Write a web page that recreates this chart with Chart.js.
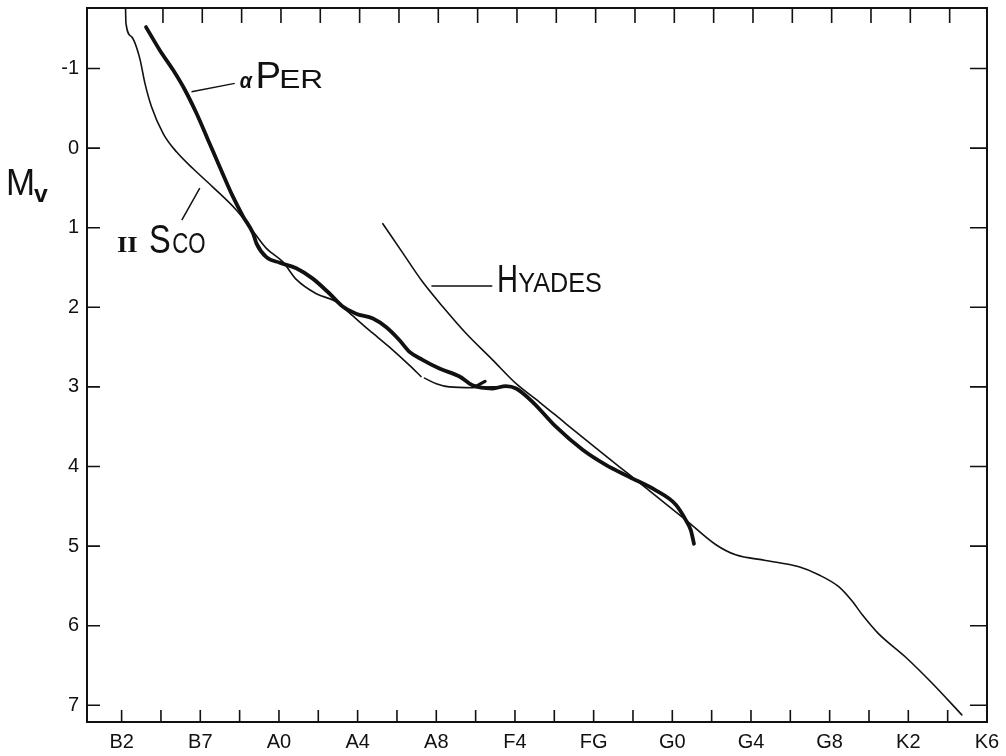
<!DOCTYPE html>
<html>
<head>
<meta charset="utf-8">
<script src="https://cdn.jsdelivr.net/npm/chart.js@4.4.1/dist/chart.umd.min.js"></script>
<style>
    html, body { margin: 0; padding: 0; background: #fff; }
    #wrap { width: 1006px; height: 756px; }
</style>
</head>
<body>
<div id="wrap"><canvas id="hrChart" width="1006" height="756"></canvas></div>
<script>
(function() {
    'use strict';

    // x axis: spectral type in tick steps from B2 (one label every 2 steps)
    const spectralLabels = ['B2', 'B7', 'A0', 'A4', 'A8', 'F4', 'FG', 'G0', 'G4', 'G8', 'K2', 'K6'];
    const magnitudeTicks = [-1, 0, 1, 2, 3, 4, 5, 6, 7];

    // II Sco (thin line), null = small break in the drawing
    const scoType = [0.10, 0.11, 0.25, 0.46, 0.59, 0.76, 1.06, 1.40, 1.82, 2.32, 2.92, 3.26, 3.68, 4.10, 4.44, 4.95, 5.46, 5.79, 6.30, 6.81, 7.32, 7.61, 7.65, 7.70, 8.00, 8.33, 8.92, 9.43, 9.94, 10.06];
    const scoMag  = [-1.75, -1.57, -1.40, -1.13, -0.82, -0.52, -0.18, 0.05, 0.26, 0.49, 0.78, 0.99, 1.26, 1.43, 1.65, 1.83, 1.93, 2.07, 2.29, 2.50, 2.73, 2.87, null, 2.89, 2.96, 3.00, 3.01, 3.00, 3.00, 3.03];

    // alpha Per (thick line)
    const perType = [0.62, 0.97, 1.31, 1.61, 1.90, 2.20, 2.49, 2.83, 3.09, 3.34, 3.43, 3.68, 4.02, 4.44, 4.86, 5.29, 5.62, 5.96, 6.39, 6.73, 7.06, 7.32, 7.65, 8.08, 8.59, 8.92, 9.43, 9.77, 10.03, 10.45, 11.04, 11.72, 12.31, 12.90, 13.58, 14.09, 14.34, 14.47, 14.55];
    const perMag  = [-1.52, -1.23, -0.98, -0.73, -0.44, -0.10, 0.23, 0.61, 0.86, 1.07, 1.20, 1.37, 1.44, 1.51, 1.64, 1.83, 1.99, 2.08, 2.14, 2.25, 2.41, 2.56, 2.66, 2.77, 2.87, 2.98, 3.02, 2.99, 3.02, 3.19, 3.50, 3.79, 3.98, 4.13, 4.30, 4.48, 4.67, 4.80, 4.97];

    // little stroke end on the alpha Per line
    const stubType = [9.02, 9.24];
    const stubMag  = [2.99, 2.93];

    // Hyades (thin line)
    const hyaType = [6.64, 7.15, 7.65, 8.16, 8.76, 9.43, 10.03, 10.62, 11.29, 12.14, 12.90, 13.66, 14.34, 15.10, 15.61, 16.37, 17.22, 17.72, 18.23, 18.57, 18.84, 19.24, 19.92, 20.60, 21.36];
    const hyaMag  = [0.95, 1.32, 1.68, 1.99, 2.33, 2.66, 2.96, 3.19, 3.46, 3.80, 4.10, 4.40, 4.67, 4.98, 5.11, 5.18, 5.26, 5.36, 5.51, 5.69, 5.87, 6.10, 6.39, 6.72, 7.12];

    const ink = '#111';
    const sans = "'Liberation Sans', Arial, sans-serif";
    const serif = "'Liberation Serif', 'DejaVu Serif', serif";

    function toPoints(xs, ys) {
        return xs.map((x, i) => ({ x: x, y: ys[i] }));
    }

    function lineSet(xs, ys, width) {
        return {
            data: toPoints(xs, ys),
            borderColor: ink,
            borderWidth: width,
            pointRadius: 0,
            fill: false,
            spanGaps: false,
            cubicInterpolationMode: 'monotone',
            borderCapStyle: 'round',
            borderJoinStyle: 'round'
        };
    }

    // labels: anchor in data units, parts offset in px from the anchor
    const notes = [
        { x: 3.003, y: -0.754, parts: [
            { text: '\u03b1', dx: 0, w: 13, h: 12, font: 'italic bold', family: sans },
            { text: 'P', dx: 18, w: 22, h: 25 },
            { text: 'ER', dx: 42, w: 40, h: 18 }
        ] },
        { x: -0.119, y: 1.319, parts: [
            { text: 'II', dx: 0, w: 20, h: 16, dy: -1, font: 'bold', family: serif },
            { text: 'S', dx: 33, w: 20, h: 28 },
            { text: 'CO', dx: 56, w: 32, h: 20 }
        ] },
        { x: 9.60, y: 1.809, parts: [
            { text: 'H', dx: 0, w: 17, h: 27 },
            { text: 'YADES', dx: 19, w: 83, h: 19 }
        ] },
        { x: -2.886, y: 0.590, parts: [
            { text: 'M', dx: 0, w: 25, h: 25 },
            { text: 'v', dx: 26, w: 15, h: 13, dy: 7, font: 'bold' }
        ] }
    ];

    const leaders = [
        [1.777, -0.707, 2.876, -0.813],
        [1.530, 0.905, 1.987, 0.503],
        [7.876, 1.734, 9.424, 1.734]
    ];

    function drawPart(ctx, p, x, y) {
        const size = p.h / 0.716;
        ctx.font = (p.font || 'normal') + ' ' + size + 'px ' + (p.family || sans);
        const m = ctx.measureText(p.text);
        const bw = m.actualBoundingBoxLeft + m.actualBoundingBoxRight;
        const bh = m.actualBoundingBoxAscent;
        ctx.save();
        ctx.translate(x + p.dx, y + (p.dy || 0));
        ctx.scale(p.w / bw, p.h / bh);
        ctx.fillText(p.text, m.actualBoundingBoxLeft, 0);
        ctx.restore();
    }

    const framePlugin = {
        id: 'frame',
        afterDraw(chart) {
            const ctx = chart.ctx;
            const area = chart.chartArea;
            const xs = chart.scales.x;
            const ys = chart.scales.y;
            ctx.save();
            ctx.strokeStyle = ink;
            ctx.fillStyle = ink;

            ctx.lineWidth = 2;
            ctx.strokeRect(area.left, area.top, area.right - area.left, area.bottom - area.top);

            ctx.lineWidth = 1.6;
            ctx.beginPath();
            xs.ticks.forEach((t) => {
                if (t.value >= 22) return;
                const px = xs.getPixelForValue(t.value);
                ctx.moveTo(px, area.bottom);
                ctx.lineTo(px, area.bottom - 12);
                if (t.value > 0) {
                    ctx.moveTo(px + 2, area.top);
                    ctx.lineTo(px + 2, area.top + 15);
                }
            });
            ys.ticks.forEach((t) => {
                const py = ys.getPixelForValue(t.value);
                ctx.moveTo(area.left, py);
                ctx.lineTo(area.left + 13, py);
                ctx.moveTo(area.right, py);
                ctx.lineTo(area.right - 17, py);
            });
            ctx.stroke();

            ctx.lineWidth = 1.5;
            ctx.beginPath();
            leaders.forEach((l) => {
                ctx.moveTo(xs.getPixelForValue(l[0]), ys.getPixelForValue(l[1]));
                ctx.lineTo(xs.getPixelForValue(l[2]), ys.getPixelForValue(l[3]));
            });
            ctx.stroke();

            ctx.textAlign = 'left';
            ctx.textBaseline = 'alphabetic';
            notes.forEach((n) => {
                const ax = xs.getPixelForValue(n.x);
                const ay = ys.getPixelForValue(n.y);
                n.parts.forEach((p) => drawPart(ctx, p, ax, ay));
            });
            ctx.restore();
        }
    };

    function initChart() {
        const canvas = document.getElementById('hrChart');
        if (typeof Chart === 'undefined' || !canvas) {
            return;
        }

        new Chart(canvas, {
            type: 'line',
            data: {
                datasets: [
                    lineSet(scoType, scoMag, 1.6),
                    lineSet(hyaType, hyaMag, 1.6),
                    lineSet(perType, perMag, 3.8),
                    lineSet(stubType, stubMag, 3.2)
                ]
            },
            options: {
                responsive: false,
                animation: false,
                devicePixelRatio: 1,
                layout: { padding: { top: 8, right: 19, left: 0, bottom: 0 } },
                plugins: { legend: { display: false }, tooltip: { enabled: false } },
                scales: {
                    x: {
                        type: 'linear',
                        min: -0.88,
                        max: 22,
                        grid: { display: false, drawTicks: false, tickLength: 0 },
                        border: { display: false },
                        ticks: {
                            stepSize: 1,
                            includeBounds: false,
                            autoSkip: false,
                            maxRotation: 0,
                            padding: 8,
                            color: ink,
                            font: { family: sans, size: 20 },
                            callback: (v) => (v % 2 === 0 ? (spectralLabels[v / 2] || '') : '')
                        },
                        afterFit: (scale) => {
                            scale.height = 34;
                            scale.paddingLeft = 0;
                            scale.paddingRight = 0;
                        }
                    },
                    y: {
                        type: 'linear',
                        reverse: true,
                        min: -1.76,
                        max: 7.21,
                        grid: { display: false, drawTicks: false, tickLength: 0 },
                        border: { display: false },
                        afterBuildTicks: (scale) => {
                            scale.ticks = magnitudeTicks.map((v) => ({ value: v }));
                        },
                        ticks: {
                            padding: 8,
                            color: ink,
                            font: { family: sans, size: 20 },
                            callback: (v) => String(v)
                        },
                        afterFit: (scale) => {
                            scale.width = 87;
                            scale.paddingTop = 0;
                            scale.paddingBottom = 0;
                        }
                    }
                }
            },
            plugins: [framePlugin]
        });
    }

    if (document.readyState === 'loading') {
        document.addEventListener('DOMContentLoaded', initChart);
    } else {
        initChart();
    }
})();
</script>
</body>
</html>
